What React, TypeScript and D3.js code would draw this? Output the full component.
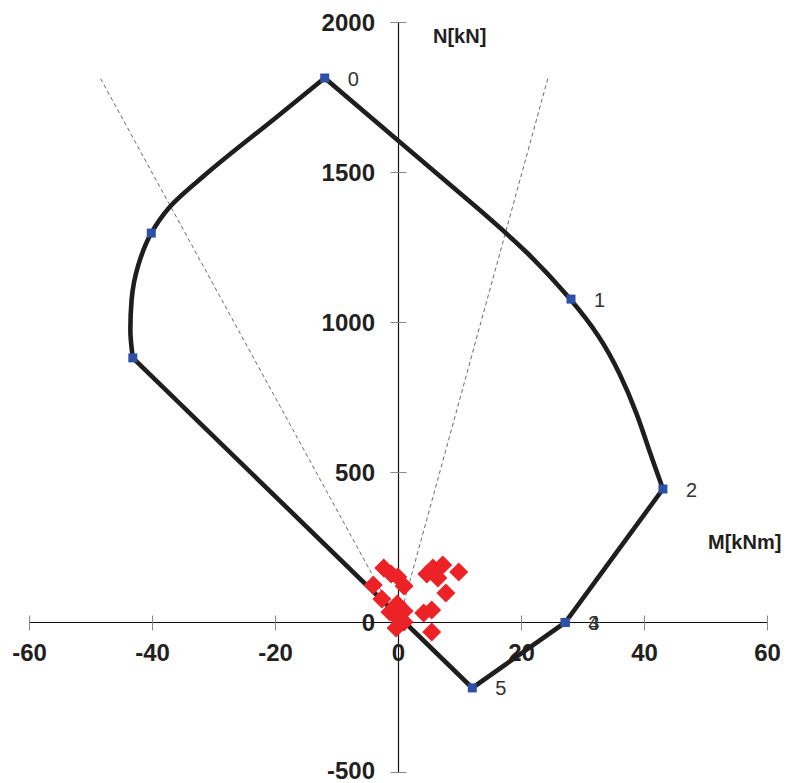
import React from "react";
import * as d3 from "d3";

// Interaction diagram boundary (M in kNm, N in kN)
const leftCurveM = [-12, -19.8, -31.1, -37.2, -40.2, -42.3, -43.4, -43.6, -43.2];
const leftCurveN = [1815, 1685, 1498, 1385, 1298, 1192, 1075, 975, 882];
const rightCurveM = [-12, 0, 13.25, 21.4, 28.05, 32.8, 36.0, 38.8, 40.9, 43];
const rightCurveN = [1815, 1605, 1375, 1228, 1078, 953, 831, 697, 564, 445];
const bottomM = [43, 27.1, 12, -43.2];
const bottomN = [445, 0, -218, 882];

// Marked points
const markerM = [-12, 28.05, 43, 27.1, 27.1, 12, -43.2, -40.2];
const markerN = [1815, 1078, 445, 0, 0, -218, 882, 1298];
const markerLabels = ["0", "1", "2", "3", "4", "5", "", ""];

// Load cases (red diamonds)
const loadM = [-2.4, -1.2, -0.1, 0.9, -4.1, -2.7, -0.2, 0.9, -1.4, 0, -0.4, 0.9, 4.6, 5.6, 7.2, 6.4, 9.8, 7.7, 4.1, 5.4, 5.4];
const loadN = [182, 162, 152, 122, 125, 78, 62, 38, 35, 12, -18, 2, 162, 182, 192, 148, 168, 98, 32, 42, -32];

// Dashed guide lines (from origin)
const guideM = [-48.5, 24.3];
const guideN = [1815, 1815];

// Ticks
const xTicks = [-60, -40, -20, 0, 20, 40, 60];
const yTicks = [-500, 0, 500, 1000, 1500, 2000];

const W = 788;
const H = 783;
const FONT = "'Liberation Sans', Arial, Helvetica, sans-serif";

export default function App() {
  const x = d3.scaleLinear().domain([-60, 60]).range([29.5, 767.5]);
  const y = d3.scaleLinear().domain([-500, 2000]).range([772.5, 22.5]);
  const x0 = x(0);
  const y0 = y(0);

  const rightCurve = d3
    .line<[number, number]>()
    .x((d) => x(d[0]))
    .y((d) => y(d[1]))
    .curve(d3.curveBasis);
  const leftCurve = d3
    .line<[number, number]>()
    .x((d) => x(d[0]))
    .y((d) => y(d[1]))
    .curve(d3.curveMonotoneY);
  const straight = d3
    .line<[number, number]>()
    .x((d) => x(d[0]))
    .y((d) => y(d[1]));

  const zip = (a: number[], b: number[]) => a.map((v, i) => [v, b[i]] as [number, number]);

  const diamond = (cx: number, cy: number, r: number) =>
    `M${cx},${cy - r}L${cx + r},${cy}L${cx},${cy + r}L${cx - r},${cy}Z`;

  const lineStyle = {
    fill: "none",
    stroke: "#1e1e1e",
    strokeWidth: 4.6,
    strokeLinecap: "round" as const,
    strokeLinejoin: "round" as const,
  };

  return (
    <svg
      width={W}
      height={H}
      style={{ position: "absolute", left: 0, top: 0, display: "block", background: "#fff" }}
      fontFamily={FONT}
    >
      <rect width={W} height={H} fill="#fff" />

      {/* dashed guide lines */}
      {guideM.map((m, i) => (
        <line
          key={"g" + i}
          x1={x0}
          y1={y0}
          x2={x(m)}
          y2={y(guideN[i])}
          stroke="#444"
          strokeWidth={0.8}
          strokeDasharray="4,3"
        />
      ))}

      {/* axes */}
      <line x1={x(-60)} x2={x(60)} y1={y0} y2={y0} stroke="#111" strokeWidth={1.2} />
      <line x1={x0} x2={x0} y1={y(2000)} y2={y(-500)} stroke="#111" strokeWidth={1.2} />
      {xTicks.map((t) => (
        <g key={"xt" + t}>
          {t !== 0 && (
            <line x1={x(t)} x2={x(t)} y1={y0 - 7} y2={y0 + 8} stroke="#888" strokeWidth={1} />
          )}
          <text
            x={x(t)}
            y={y0 + 38.5}
            textAnchor="middle"
            fontSize={24}
            fontWeight="bold"
            fill="#231f20"
          >
            {t}
          </text>
        </g>
      ))}
      {yTicks.map((t) => (
        <g key={"yt" + t}>
          {t !== 0 && (
            <line x1={x0 - 8} x2={x0 + 8} y1={y(t)} y2={y(t)} stroke="#888" strokeWidth={1} />
          )}
          <text
            x={375}
            y={y(t) + (t === -500 ? 6.5 : 8.5)}
            textAnchor="end"
            fontSize={24}
            fontWeight="bold"
            fill="#231f20"
          >
            {t}
          </text>
        </g>
      ))}

      {/* axis titles */}
      <text x={433} y={43} fontSize={20} fontWeight="bold" fill="#231f20">
        N[kN]
      </text>
      <text x={708} y={549} fontSize={20} fontWeight="bold" fill="#231f20">
        M[kNm]
      </text>

      {/* interaction boundary */}
      <path d={leftCurve(zip(leftCurveM, leftCurveN)) || ""} {...lineStyle} />
      <path d={rightCurve(zip(rightCurveM, rightCurveN)) || ""} {...lineStyle} />
      <path d={straight(zip(bottomM, bottomN)) || ""} {...lineStyle} strokeLinejoin="miter" />

      {/* markers */}
      {markerM.map((m, i) => (
        <rect
          key={"m" + i}
          x={x(m) - 4.5}
          y={y(markerN[i]) - 4.5}
          width={9}
          height={9}
          fill="#2e51a6"
        />
      ))}
      {markerM.map((m, i) =>
        markerLabels[i] ? (
          <text
            key={"ml" + i}
            x={x(m) + 23}
            y={y(markerN[i]) + 7.5}
            fontSize={20}
            fill="#333"
          >
            {markerLabels[i]}
          </text>
        ) : null
      )}

      {/* load cases */}
      {loadM.map((m, i) => (
        <path key={"d" + i} d={diamond(x(m), y(loadN[i]), 9.5)} fill="#ec2227" />
      ))}
    </svg>
  );
}
